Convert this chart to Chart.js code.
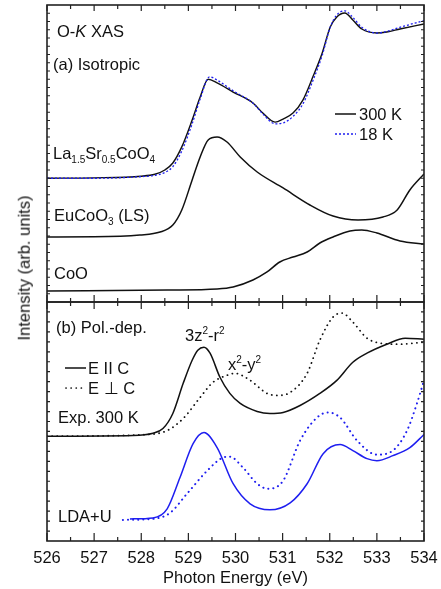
<!DOCTYPE html>
<html>
<head>
<meta charset="utf-8">
<script src="https://cdn.jsdelivr.net/npm/chart.js@4.4.1/dist/chart.umd.min.js"></script>
<style>
html,body{margin:0;padding:0;background:#fff}
#wrap{position:relative;width:441px;height:589px;font-family:"Liberation Sans",Arial,Helvetica,sans-serif;color:#111}
.box{position:absolute;left:0;width:441px}
.t{position:absolute;font-size:16.5px;line-height:1;white-space:nowrap;transform:translateY(-50%)}
.t sub,.t sup{font-size:10px;line-height:0}
.key{position:absolute}
#ytitle{position:absolute;left:24px;top:268px;font-size:16.5px;line-height:1;white-space:nowrap;transform:translate(-50%,-50%) rotate(-90deg)}
</style>
</head>
<body>
<div id="wrap">
  <div class="box" style="top:0;height:310px"><canvas id="chartA"></canvas></div>
  <div class="box" style="top:295px;height:294px"><canvas id="chartB"></canvas></div>

  <div id="ytitle">Intensity (arb. units)</div>

  <div class="t" style="left:57px;top:31px">O-<i>K</i> XAS</div>
  <div class="t" style="left:53px;top:64px">(a) Isotropic</div>
  <div class="t" style="left:53px;top:153px">La<sub>1.5</sub>Sr<sub>0.5</sub>CoO<sub>4</sub></div>
  <div class="t" style="left:54px;top:215px">EuCoO<sub>3</sub> (LS)</div>
  <div class="t" style="left:54px;top:273px">CoO</div>

  <svg class="key" style="left:335px;top:108px" width="21" height="12"><line x1="0" y1="6" x2="21" y2="6" stroke="#111" stroke-width="1.5"/></svg>
  <div class="t" style="left:359px;top:114px">300 K</div>
  <svg class="key" style="left:335px;top:128px" width="21" height="12"><line x1="0" y1="6" x2="21" y2="6" stroke="#1e1ef0" stroke-width="1.3" stroke-dasharray="2 2"/></svg>
  <div class="t" style="left:359px;top:134px">18 K</div>

  <div class="t" style="left:56px;top:327px">(b) Pol.-dep.</div>
  <div class="t" style="left:185px;top:335px">3z<sup>2</sup>-r<sup>2</sup></div>
  <div class="t" style="left:228px;top:364px">x<sup>2</sup>-y<sup>2</sup></div>
  <svg class="key" style="left:65px;top:362px" width="21" height="12"><line x1="0" y1="6" x2="21" y2="6" stroke="#111" stroke-width="1.5"/></svg>
  <div class="t" style="left:88px;top:368px">E II C</div>
  <svg class="key" style="left:65px;top:382px" width="21" height="12"><line x1="1" y1="6" x2="21" y2="6" stroke="#111" stroke-width="1.7" stroke-linecap="round" stroke-dasharray="0.1 5"/></svg>
  <div class="t" style="left:88px;top:388px">E &#8869; C</div>
  <div class="t" style="left:58px;top:417px">Exp. 300 K</div>
  <div class="t" style="left:58px;top:516px">LDA+U</div>
</div>

<script>
// shared x range (eV)
const xMin = 526, xMax = 534

// (a) isotropic, La1.5Sr0.5CoO4
const la300E = [526.00, 527.00, 528.00, 528.29, 528.50, 528.67, 528.86, 529.08, 529.25, 529.42, 529.61, 529.95, 530.37, 530.58, 530.84, 531.01, 531.22, 531.43, 531.64, 531.84, 532.01, 532.15, 532.32, 532.49, 532.68, 533.00, 533.21, 533.49, 534.00]
const la300 = [15.0, 15.05, 15.25, 15.48, 16.0, 16.85, 18.8, 22.06, 24.85, 27.0, 26.55, 25.45, 24.12, 22.9, 21.8, 22.18, 22.9, 24.48, 27.27, 30.18, 33.33, 34.55, 35.03, 34.18, 33.09, 32.61, 32.73, 33.09, 33.7]
const la18E = [526.00, 527.00, 528.00, 528.29, 528.50, 528.67, 528.86, 529.08, 529.25, 529.45, 529.61, 529.95, 530.37, 530.58, 530.84, 531.01, 531.22, 531.43, 531.64, 531.84, 532.01, 532.15, 532.32, 532.49, 532.68, 533.00, 533.21, 533.49, 534.00]
const la18 = [15.0, 15.0, 15.2, 15.35, 15.7, 16.4, 18.3, 21.6, 24.6, 27.3, 26.9, 25.6, 24.1, 22.8, 21.6, 21.7, 22.5, 24.0, 26.8, 29.9, 33.3, 34.8, 35.3, 34.5, 33.3, 32.6, 32.8, 33.3, 34.1]

// EuCoO3 (LS)
const euE = [526.00, 527.00, 527.97, 528.40, 528.67, 528.86, 529.08, 529.25, 529.42, 529.61, 529.82, 530.10, 530.46, 531.01, 531.58, 532.07, 532.60, 533.13, 533.43, 533.70, 534.00]
const eu = [7.88, 7.9, 8.12, 8.48, 9.33, 11.15, 14.79, 17.58, 19.64, 20.0, 19.39, 17.58, 15.76, 13.82, 11.76, 10.42, 9.94, 10.3, 11.15, 13.58, 15.52]

// CoO
const cooE = [526.00, 528.55, 529.61, 529.95, 530.37, 530.67, 530.94, 531.22, 531.52, 531.79, 532.07, 532.43, 532.68, 533.00, 533.49, 534.00]
const coo = [1.33, 1.45, 1.58, 1.82, 2.67, 3.64, 4.85, 5.45, 6.06, 7.15, 7.88, 8.61, 8.73, 8.36, 7.39, 7.03]

// (b) polarization dependent, exp. 300 K
const parE = [526.00, 527.82, 528.25, 528.46, 528.67, 528.89, 529.08, 529.20, 529.33, 529.46, 529.67, 529.88, 530.10, 530.46, 530.73, 531.01, 531.37, 531.79, 532.15, 532.49, 532.79, 533.21, 533.60, 534.00]
const par = [10.52, 10.59, 10.82, 11.29, 12.81, 15.83, 18.15, 19.16, 19.46, 18.86, 16.44, 14.82, 13.81, 13.01, 12.81, 12.91, 13.61, 14.82, 16.13, 17.95, 18.86, 19.76, 20.37, 20.27]
const perpE = [526.00, 528.12, 528.55, 528.89, 529.25, 529.52, 529.82, 529.99, 530.31, 530.67, 530.88, 531.16, 531.52, 531.79, 532.07, 532.26, 532.49, 532.79, 533.07, 533.49, 534.00]
const perp = [10.52, 10.69, 11.09, 12.3, 14.42, 15.93, 16.64, 16.84, 16.13, 14.82, 14.62, 14.92, 16.84, 20.17, 22.49, 22.89, 21.98, 20.37, 19.87, 19.76, 19.97]

// LDA+U
const ldaParE = [527.76, 528.25, 528.55, 528.82, 529.10, 529.33, 529.61, 529.95, 530.31, 530.73, 531.16, 531.52, 531.86, 532.22, 532.49, 532.79, 533.00, 533.34, 533.70, 534.00]
const ldaPar = [2.22, 2.32, 3.23, 6.35, 9.78, 10.89, 9.38, 5.75, 3.73, 3.13, 3.83, 5.75, 8.77, 9.68, 9.08, 8.27, 8.07, 8.57, 9.38, 10.69]
const ldaPerpE = [527.61, 528.25, 528.61, 528.97, 529.40, 529.73, 529.88, 530.16, 530.46, 530.69, 531.01, 531.37, 531.73, 531.96, 532.22, 532.58, 533.00, 533.34, 533.64, 533.85, 534.00]
const ldaPerp = [2.12, 2.22, 2.82, 4.74, 7.06, 8.37, 8.47, 7.36, 5.75, 5.24, 6.05, 10.08, 12.4, 12.91, 12.4, 10.08, 8.67, 9.08, 11.09, 13.81, 16.13]

const black = '#111'
const blue = '#1e1ef0'

function pts(xs, ys){
    return xs.map((e, i) => ({x: e, y: ys[i]}))
}

function line(xs, ys, color, dash = [], width = 1.5, order = 1, cap = 'butt'){
    return {
        data: pts(xs, ys),
        borderColor: color,
        borderWidth: width,
        borderDash: dash,
        borderCapStyle: cap,
        pointRadius: 0,
        fill: false,
        cubicInterpolationMode: 'monotone',
        order: order,
    }
}

// frame with inward ticks on all four sides
const frameTicks = {
    id: 'frameTicks',
    afterDraw(chart, args, opts){
        const {ctx, chartArea: a, scales} = chart
        const x = scales.x, y = scales.y
        ctx.save()
        ctx.strokeStyle = '#222'
        ctx.lineWidth = 1.2
        ctx.beginPath()
        for (let e = xMin; e <= xMax + 1e-6; e += 0.5){
            const px = x.getPixelForValue(e)
            const major = Math.abs(e - Math.round(e)) < 1e-6
            ctx.moveTo(px, a.bottom); ctx.lineTo(px, a.bottom - (major ? opts.majB : opts.minB))
            ctx.moveTo(px, a.top); ctx.lineTo(px, a.top + (major ? opts.majT : opts.minT))
        }
        for (let v = y.min + 1; v < y.max; v += 1){
            const py = y.getPixelForValue(v)
            ctx.moveTo(a.left, py); ctx.lineTo(a.left + 3, py)
            ctx.moveTo(a.right, py); ctx.lineTo(a.right - 3, py)
        }
        ctx.stroke()
        ctx.lineWidth = 1.6
        ctx.strokeRect(a.left, a.top, a.right - a.left, a.bottom - a.top)
        ctx.restore()
    }
}

Chart.defaults.font.family = '"Liberation Sans", Arial, Helvetica, sans-serif'
Chart.defaults.color = '#111'

const chartA = new Chart(document.getElementById('chartA'), {
    type: 'line',
    data: {
        datasets: [
            line(la300E, la300, black, [], 1.4, 1),
            line(la18E, la18, blue, [2, 2], 1.3, 0),
            line(euE, eu, black),
            line(cooE, coo, black),
        ]
    },
    options: {
        responsive: true,
        maintainAspectRatio: false,
        animation: false,
        layout: {padding: {left: 47, right: 17, top: 5, bottom: 8}},
        scales: {
            x: {type: 'linear', min: xMin, max: xMax, display: false},
            y: {type: 'linear', min: 0, max: 36, display: false},
        },
        plugins: {
            legend: {display: false},
            tooltip: {enabled: false},
            frameTicks: {majT: 6, minT: 4, majB: 7, minB: 4},
        }
    },
    plugins: [frameTicks]
})

const chartB = new Chart(document.getElementById('chartB'), {
    type: 'line',
    data: {
        datasets: [
            line(parE, par, black),
            line(perpE, perp, black, [0.1, 5], 1.8, 1, 'round'),
            line(ldaParE, ldaPar, blue),
            line(ldaPerpE, ldaPerp, blue, [0.1, 5], 2, 1, 'round'),
        ]
    },
    options: {
        responsive: true,
        maintainAspectRatio: false,
        animation: false,
        layout: {padding: {left: 47, right: 17, top: 7, bottom: 0}},
        scales: {
            x: {
                type: 'linear', min: xMin, max: xMax,
                grid: {display: false},
                border: {display: false},
                ticks: {stepSize: 1, padding: 0, maxRotation: 0, autoSkip: false, font: {size: 16.5}, color: '#111'},
                title: {display: true, text: 'Photon Energy (eV)', font: {size: 16.5}, color: '#111', padding: {top: 0, bottom: 1}},
                afterFit: s => { s.height = 48 },
            },
            y: {type: 'linear', min: 0, max: 24, display: false},
        },
        plugins: {
            legend: {display: false},
            tooltip: {enabled: false},
            frameTicks: {majT: 7, minT: 4, majB: 8, minB: 4},
        }
    },
    plugins: [frameTicks]
})
</script>
</body>
</html>
